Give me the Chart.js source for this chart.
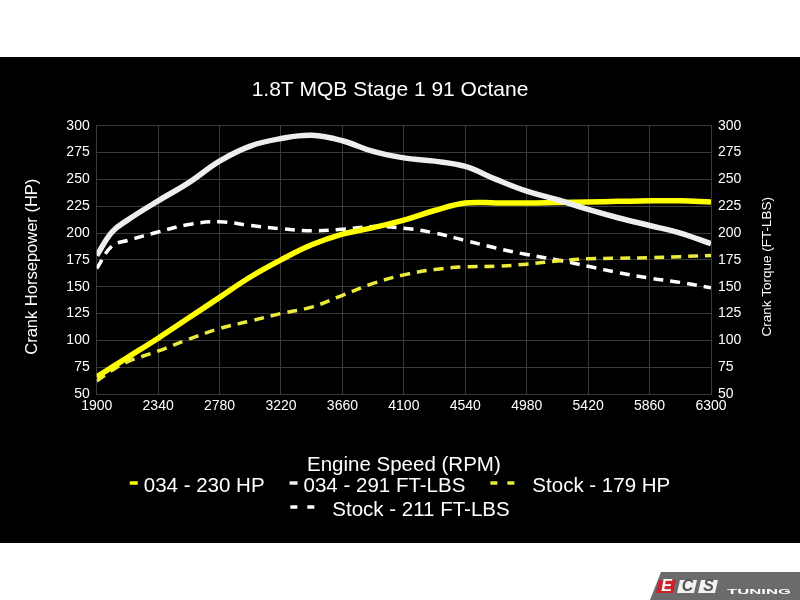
<!DOCTYPE html>
<html>
<head>
<meta charset="utf-8">
<title>1.8T MQB Stage 1 91 Octane</title>
<script src="https://cdn.jsdelivr.net/npm/chart.js@4.4.1/dist/chart.umd.min.js"></script>
<style>
  html, body { margin: 0; padding: 0; background: #fff; overflow: hidden; }
  canvas { display: block; }
</style>
</head>
<body>
<canvas id="dyno" width="800" height="600"></canvas>
<script>
const FONT = 'Arial, "Liberation Sans", sans-serif';

// engine speed (rpm) for every sample
const rpm      = [1900, 2010, 2120, 2340, 2560, 2780, 3000, 3220, 3440, 3660, 3880, 4100, 4320, 4540, 4760, 4980, 5200, 5420, 5640, 5860, 6080, 6300];
const hp034    = [66, 75, 84, 102, 121, 140, 159, 175, 189, 199, 205, 212, 221, 228, 228, 228, 228.5, 229, 229.5, 230, 230, 229];
const tq034    = [179, 201, 212, 230, 247, 267, 281, 288, 291, 286, 276, 270, 267, 262, 250, 239, 231, 222, 214, 207, 200, 190];
const hpStock  = [62, 72, 80, 90, 101, 111, 118, 125, 131, 142, 153, 161, 166, 168.5, 169, 171, 174, 176, 176.5, 177, 178, 179];
const tqStock  = [167, 188, 193, 201, 208, 210.5, 207, 204, 202, 203.5, 206, 204.5, 200, 193, 186, 180, 175, 169, 163, 158, 154, 149];

const seriesLabels = ['034 - 230 HP', '034 - 291 FT-LBS', 'Stock - 179 HP', 'Stock - 211 FT-LBS'];
const chartTitle = '1.8T MQB Stage 1 91 Octane';
const xTitle = 'Engine Speed (RPM)';
const yLeftTitle = 'Crank Horsepower (HP)';
const yRightTitle = 'Crank Torque (FT-LBS)';

// axis ranges -> ticks 1900, 2340 ... 6300 and 50, 75 ... 300
const rpmMin = 1900, rpmMax = 6300, rpmStep = 440;
const valMin = 50, valMax = 300, valStep = 25;

const pts = vals => vals.map((v, i) => ({ x: rpm[i], y: v }));

const GRID = '#3a3a3a';

const dynoDecor = {
  id: 'dynoDecor',
  beforeDraw(chart) {
    const ctx = chart.ctx;
    ctx.save();
    ctx.fillStyle = '#fff';
    ctx.fillRect(0, 0, 800, 600);
    ctx.fillStyle = '#000';
    ctx.fillRect(0, 57, 800, 486);
    ctx.restore();
  },
  afterDraw(chart) {
    const ctx = chart.ctx;
    ctx.save();
    ctx.fillStyle = '#fff';
    ctx.textAlign = 'center';
    ctx.textBaseline = 'middle';

    // y axis titles
    ctx.font = '16.5px ' + FONT;
    ctx.save(); ctx.translate(32.5, 266.7); ctx.rotate(-Math.PI / 2);
    ctx.fillText(yLeftTitle, 0, 0); ctx.restore();
    ctx.font = '13.5px ' + FONT;
    ctx.save(); ctx.translate(767, 266.7); ctx.rotate(-Math.PI / 2);
    ctx.fillText(yRightTitle, 0, 0); ctx.restore();

    // legend
    ctx.font = '20.5px ' + FONT;
    ctx.textAlign = 'left';
    ctx.textBaseline = 'alphabetic';
    const items = chart.data.datasets.map(ds => {
      const dashed = ds.borderDash && ds.borderDash.length > 0;
      const mark = dashed ? 24 : 8, gap = dashed ? 18 : 6;
      return { ds, dashed, mark, gap, w: mark + gap + ctx.measureText(ds.label).width };
    });
    const rows = [[]];
    let rowW = 0;
    items.forEach(it => {
      const row = rows[rows.length - 1];
      const add = (row.length ? 25 : 0) + it.w;
      if (row.length && rowW + add > 560) { rows.push([it]); rowW = it.w; }
      else { row.push(it); rowW += add; }
    });
    rows.forEach((row, r) => {
      const total = row.reduce((s, it) => s + it.w, 0) + 25 * (row.length - 1);
      let x = 400 - total / 2;
      const base = 492 + r * 24;
      row.forEach(it => {
        ctx.strokeStyle = it.ds.borderColor;
        ctx.lineWidth = 3.5;
        ctx.setLineDash(it.dashed ? [7, 10] : []);
        ctx.beginPath(); ctx.moveTo(x, base - 9); ctx.lineTo(x + it.mark, base - 9); ctx.stroke();
        ctx.setLineDash([]);
        ctx.fillStyle = '#fff';
        ctx.fillText(it.ds.label, x + it.mark + it.gap, base);
        x += it.w + 25;
      });
    });

    // ECS Tuning badge
    ctx.fillStyle = '#6b6b6b';
    ctx.beginPath();
    ctx.moveTo(661, 572); ctx.lineTo(800, 572); ctx.lineTo(800, 600); ctx.lineTo(650, 600);
    ctx.closePath(); ctx.fill();
    const box = (x0, fill) => {
      ctx.fillStyle = fill;
      ctx.beginPath();
      ctx.moveTo(x0 + 3, 580); ctx.lineTo(x0 + 20, 580); ctx.lineTo(x0 + 17, 593); ctx.lineTo(x0, 593);
      ctx.closePath(); ctx.fill();
    };
    box(656, '#cc2229');
    box(677, '#f2f2f2');
    box(698, '#f2f2f2');
    ctx.font = 'italic bold 16px ' + FONT;
    ctx.textAlign = 'center';
    ctx.textBaseline = 'middle';
    ctx.fillStyle = '#fff'; ctx.fillText('E', 666.5, 587);
    ctx.fillStyle = '#555'; ctx.fillText('C', 687.5, 587); ctx.fillText('S', 708.5, 587);
    ctx.font = 'bold 7.5px ' + FONT;
    ctx.fillStyle = '#fff';
    ctx.textAlign = 'left';
    const tw = ctx.measureText('TUNING').width;
    ctx.save(); ctx.translate(727, 592); ctx.scale(64 / tw, 1);
    ctx.fillText('TUNING', 0, 0); ctx.restore();
    ctx.restore();
  }
};

const tickFont = { family: FONT, size: 14 };

new Chart(document.getElementById('dyno'), {
  type: 'line',
  data: {
    datasets: [
      { label: seriesLabels[0], data: pts(hp034), yAxisID: 'y', borderColor: '#ffff00', borderWidth: 5.5, order: 1 },
      { label: seriesLabels[1], data: pts(tq034), yAxisID: 'y1', borderColor: '#eeeeee', borderWidth: 5.5, order: 0 },
      { label: seriesLabels[2], data: pts(hpStock), yAxisID: 'y', borderColor: '#ebeb3c', borderWidth: 3.5, borderDash: [10, 7], order: 2 },
      { label: seriesLabels[3], data: pts(tqStock), yAxisID: 'y1', borderColor: '#ffffff', borderWidth: 3.5, borderDash: [10, 7], order: 3 }
    ]
  },
  options: {
    responsive: false,
    animation: false,
    layout: { padding: { left: 0, right: 20, top: 0, bottom: 0 } },
    elements: {
      point: { radius: 0 },
      line: { fill: false, tension: 0.4, borderCapStyle: 'butt' }
    },
    plugins: {
      legend: { display: false },
      tooltip: { enabled: false },
      title: {
        display: true, text: chartTitle, color: '#fff',
        font: { family: FONT, size: 21, weight: 'normal' },
        padding: { top: 77.6, bottom: 22.9 }
      }
    },
    scales: {
      x: {
        type: 'linear', min: rpmMin, max: rpmMax,
        afterFit: s => { s.height = 206; },
        grid: { color: GRID, drawTicks: false },
        border: { color: GRID },
        ticks: { stepSize: rpmStep, color: '#fff', font: tickFont, padding: 4, maxRotation: 0, callback: v => String(v) },
        title: { display: true, text: xTitle, color: '#fff', font: { family: FONT, size: 20.5 }, padding: { top: 0, bottom: 122.2 } }
      },
      y: {
        position: 'left', min: valMin, max: valMax,
        afterFit: s => { s.width = 96.7; },
        grid: { color: GRID, drawTicks: false },
        border: { color: GRID },
        ticks: { stepSize: valStep, color: '#fff', font: tickFont, padding: 7 }
      },
      y1: {
        position: 'right', min: valMin, max: valMax,
        afterFit: s => { s.width = 69; },
        grid: { drawOnChartArea: false, drawTicks: false },
        border: { color: GRID },
        ticks: { stepSize: valStep, color: '#fff', font: tickFont, padding: 7 }
      }
    }
  },
  plugins: [dynoDecor]
});
</script>
</body>
</html>
